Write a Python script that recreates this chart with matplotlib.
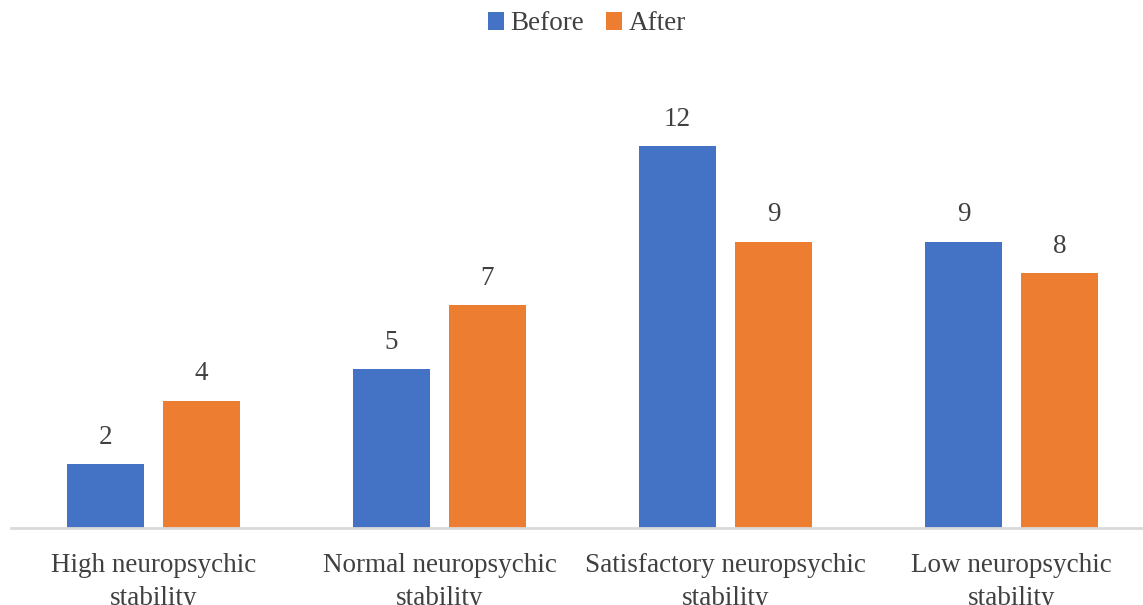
import matplotlib.pyplot as plt
import numpy as np

categories = ["High neuropsychic\nstability", "Normal neuropsychic\nstability",
              "Satisfactory neuropsychic\nstability", "Low neuropsychic\nstability"]
before = [2, 5, 12, 9]
after = [4, 7, 9, 8]

plt.rcParams['font.family'] = ['Liberation Serif', 'DejaVu Serif']
text_color = '#404040'
blue = '#4472C4'
orange = '#ED7D31'

W, H = 1143, 605
fig = plt.figure(figsize=(W / 100, H / 100), dpi=100)

# axes placed in pixel units: baseline at y=528, one category = 286 px
left_px, base_px, top_px = 10.5, 528, 60
ax = fig.add_axes([left_px / W, 1 - base_px / H, 4 * 286 / W, (base_px - top_px) / H])
px_per_unit = 382 / 12
ax.set_ylim(0, (base_px - top_px) / px_per_unit)
ax.set_xlim(-0.5, 3.5)

x = np.arange(len(categories))
bw = 77 / 286
off = 48 / 286
b1 = ax.bar(x - off, before, bw, color=blue, label='Before')
b2 = ax.bar(x + off, after, bw, color=orange, label='After')

for bars, vals in ((b1, before), (b2, after)):
    for rect, v in zip(bars, vals):
        ax.text(rect.get_x() + rect.get_width() / 2, v + 0.45, str(v),
                ha='center', va='bottom', fontsize=19.5, color=text_color)

for s in ['top', 'right', 'left']:
    ax.spines[s].set_visible(False)
ax.spines['bottom'].set_color('#d9d9d9')
ax.spines['bottom'].set_linewidth(2)
ax.set_yticks([])
ax.set_xticks(x)
ax.set_xticklabels(categories, fontsize=19.5, color=text_color, linespacing=1.4)
ax.tick_params(axis='x', length=0, pad=18)

fig.legend(handles=[b1, b2], loc='center', bbox_to_anchor=(587 / W, 1 - 24 / H),
           ncol=2, frameon=False, fontsize=19.5, labelcolor=text_color,
           handlelength=0.6, handleheight=0.6, handletextpad=0.25, columnspacing=0.8)

fig.savefig('out.png', dpi=100)
